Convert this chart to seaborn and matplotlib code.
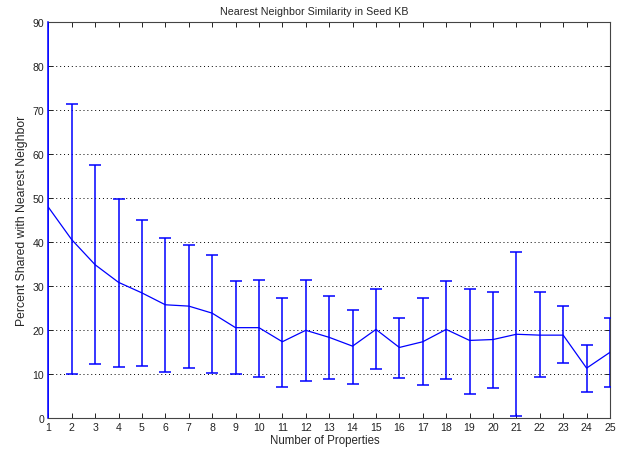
import matplotlib
matplotlib.use("Agg")
import matplotlib.pyplot as plt
import seaborn as sns
import pandas as pd
import numpy as np

# Number of properties per entity
num_properties = list(range(1, 26))
# Mean percent shared with nearest neighbour
mean_shared = [48.0, 40.6, 34.9, 30.9, 28.5, 25.8, 25.5, 23.9, 20.6, 20.6,
               17.4, 20.0, 18.4, 16.4, 20.2, 16.1, 17.4, 20.2, 17.7, 17.9,
               19.1, 18.9, 18.9, 11.4, 15.0]
# Lower / upper ends of the error bars
lower_bound = [-4.0, 10.0, 12.3, 11.6, 12.0, 10.5, 11.4, 10.3, 10.0, 9.4,
               7.2, 8.5, 8.9, 7.7, 11.1, 9.2, 7.6, 9.0, 5.5, 7.0,
               0.5, 9.4, 12.5, 5.9, 7.2]
upper_bound = [100.0, 71.5, 57.6, 49.8, 45.0, 41.0, 39.3, 37.1, 31.2, 31.5,
               27.3, 31.4, 27.9, 24.7, 29.4, 22.7, 27.3, 31.2, 29.5, 28.6,
               37.8, 28.6, 25.5, 16.7, 22.8]

df = pd.DataFrame({"props": num_properties, "shared": mean_shared,
                   "lo": lower_bound, "hi": upper_bound})

sns.set_style("white")
plt.rcParams["font.family"] = ["Liberation Sans", "DejaVu Sans"]

fig = plt.figure(figsize=(6.18, 4.52), dpi=100)
left_px, right_px, top_px, bottom_px = 48.3, 610.0, 23.3, 419.3
ax = fig.add_axes([left_px / 618, 1 - bottom_px / 452,
                   (right_px - left_px) / 618, (bottom_px - top_px) / 452])

blue = "#0000ff"
yerr = np.vstack([df["shared"] - df["lo"], df["hi"] - df["shared"]])
ax.errorbar(df["props"], df["shared"], yerr=yerr, fmt="none", ecolor=blue,
            elinewidth=1.1, capsize=4.2, capthick=1.1, zorder=3)
sns.lineplot(data=df, x="props", y="shared", ax=ax, color=blue, linewidth=0.9,
             zorder=3)

ax.set_xlim(1, 25)
ax.set_ylim(0, 90)
ax.set_xticks(num_properties)
ax.set_yticks(range(0, 91, 10))
ax.yaxis.grid(True, linestyle=(0, (1, 3)), color="black", linewidth=0.7)
ax.xaxis.grid(False)

ax.tick_params(direction="in", bottom=True, left=True, top=True, right=True,
               length=3.6, width=0.7, labelsize=7.6, colors="#222222", pad=3)
for s in ax.spines.values():
    s.set_color("#444444")
    s.set_linewidth(0.8)
    s.set_zorder(2)
# the first error bar runs the full height along the left edge
ax.spines["left"].set_color(blue)
ax.spines["left"].set_linewidth(1.1)

ax.set_title("Nearest Neighbor Similarity in Seed KB", fontsize=7.7, pad=6,
             x=(314 - left_px) / (right_px - left_px))
ax.set_xlabel("Number of Properties", fontsize=8.3, labelpad=1,
              x=(325 - left_px) / (right_px - left_px))
ax.set_ylabel("Percent Shared with Nearest Neighbor", fontsize=8.8, labelpad=3)

fig.savefig("out.png", dpi=100)
